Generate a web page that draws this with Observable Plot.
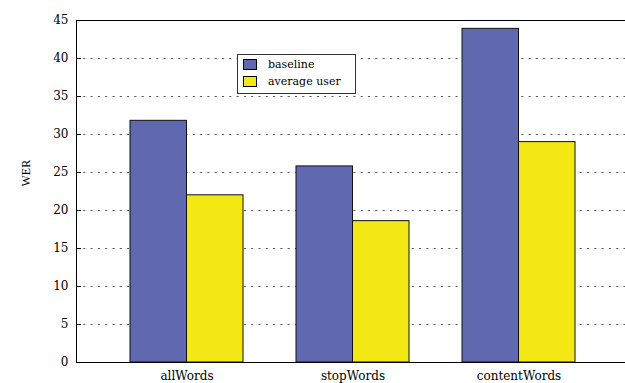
<!DOCTYPE html>
<html><head><meta charset="utf-8">
<script src="https://cdn.jsdelivr.net/npm/d3@7"></script>
<script src="https://cdn.jsdelivr.net/npm/@observablehq/plot@0.6"></script>
<style>
html,body{margin:0;padding:0;background:#fff;overflow:hidden;}
#wrap{position:relative;width:625px;height:383px;overflow:hidden;}
#wrap svg{display:block;max-width:none !important;}
.legend{position:absolute;left:237px;top:54px;width:117px;height:38px;border:1px solid #333;background:#fff;font-family:"DejaVu Serif",serif;font-size:11px;color:#000;}
.legend .sw{position:absolute;left:5px;width:12px;height:9px;border:1px solid #000;}
.legend .lab{position:absolute;left:30px;line-height:12px;white-space:nowrap;}
</style></head><body><div id="wrap"></div>
<script>
const categories = ["allWords", "stopWords", "contentWords"];
const seriesNames = ["baseline", "average user"];
const baseline = [31.8, 25.8, 43.9];
const averageUser = [22.0, 18.6, 29.0];
const yTicks = [0, 5, 10, 15, 20, 25, 30, 35, 40, 45];
const gridTicks = [5, 10, 15, 20, 25, 30, 35, 40];
const colors = ["#6068b0", "#f3e813"];

const rows = categories.flatMap((c, i) => [
  {category: c, series: seriesNames[0], value: baseline[i]},
  {category: c, series: seriesNames[1], value: averageUser[i]}
]);

const W = 626, ML = 76;
const chart = Plot.plot({
  width: W, height: 383,
  marginLeft: ML, marginRight: 0, marginTop: 20, marginBottom: 21,
  style: {fontFamily: "DejaVu Serif", fontSize: "12px", background: "white", color: "black", maxWidth: "none"},
  x: {type: "band", domain: categories, paddingInner: 0.3213, paddingOuter: 0.3123, align: 0.51, label: null, axis: null},
  y: {domain: [0, 45], label: null, axis: null},
  marks: [
    Plot.gridY(gridTicks, {stroke: "#555", strokeOpacity: 1, strokeDasharray: "2,5.3"}),
    Plot.barY(rows.filter(d => d.series === seriesNames[0]), {x: "category", y: "value", fill: colors[0], stroke: "#111", strokeWidth: 1, insetRight: 56.5}),
    Plot.barY(rows.filter(d => d.series === seriesNames[1]), {x: "category", y: "value", fill: colors[1], stroke: "#111", strokeWidth: 1, insetLeft: 56.5}),
    Plot.gridY(gridTicks, {stroke: "#000", strokeOpacity: 1, insetRight: W - ML - 5}),
    Plot.frame({stroke: "#000", strokeWidth: 1}),
    Plot.axisY(yTicks, {tickSize: 0, tickPadding: 8, fontSize: 12}),
    Plot.axisX({tickSize: 0, tickPadding: 9, fontSize: 12}),
    Plot.text(["WER"], {text: d => d, frameAnchor: "left", dx: -50, dy: -5, rotate: -90, fontFamily: "Liberation Serif", fontSize: 12})
  ]
});
const wrap = document.getElementById("wrap");
wrap.appendChild(chart);

const legend = document.createElement("div");
legend.className = "legend";
seriesNames.forEach((name, i) => {
  const sw = document.createElement("span");
  sw.className = "sw";
  sw.style.background = colors[i];
  sw.style.top = (4 + i * 17.4) + "px";
  const lab = document.createElement("span");
  lab.className = "lab";
  lab.textContent = name;
  lab.style.top = (3.5 + i * 17.4) + "px";
  legend.appendChild(sw);
  legend.appendChild(lab);
});
wrap.appendChild(legend);
</script></body></html>
